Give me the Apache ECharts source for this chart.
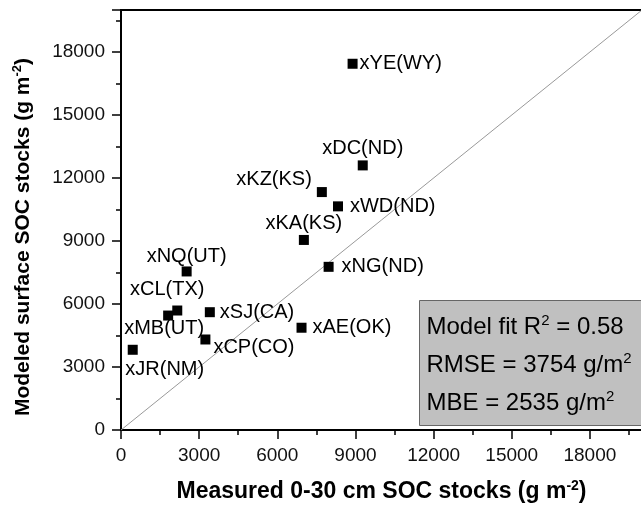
<!DOCTYPE html>
<html>
<head>
<meta charset="utf-8">
<script src="https://cdn.jsdelivr.net/npm/echarts@6/dist/echarts.min.js"></script>
<style>
  html, body { margin: 0; padding: 0; background: #fff; }
  #main { width: 641px; height: 509px; }
</style>
</head>
<body>
<div id="main"></div>
<script>
var sites = ['xYE(WY)', 'xDC(ND)', 'xKZ(KS)', 'xWD(ND)', 'xKA(KS)', 'xNG(ND)', 'xNQ(UT)',
             'xCL(TX)', 'xMB(UT)', 'xSJ(CA)', 'xCP(CO)', 'xAE(OK)', 'xJR(NM)'];
var measured = [8890, 9280, 7710, 8330, 7020, 7970, 2520, 2160, 1810, 3410, 3240, 6930, 450];
var modeled = [17440, 12600, 11330, 10650, 9050, 7770, 7550, 5690, 5450, 5610, 4310, 4870, 3820];
var oneToOne = [[0, 0], [20000, 20000]];
var fitText = ['Model fit R{sup|2} = 0.58', 'RMSE = 3754 g/m{sup|2}', 'MBE = 2535 g/m{sup|2}'];

var FONT = '"Liberation Sans", Arial, sans-serif';

// where each site name sits around its marker
var labelPos = {
    'xYE(WY)': { position: 'right', distance: 2 },
    'xDC(ND)': { position: 'top', distance: 2 },
    'xKZ(KS)': { position: 'left', distance: 5, offset: [0, -13] },
    'xWD(ND)': { position: 'right', distance: 7 },
    'xKA(KS)': { position: 'top', distance: 1 },
    'xNG(ND)': { position: 'right', distance: 8 },
    'xNQ(UT)': { position: 'top', distance: 0 },
    'xCL(TX)': { position: 'top', distance: 3, offset: [-10, -3] },
    'xMB(UT)': { position: 'bottom', distance: 0, offset: [-4, -2] },
    'xSJ(CA)': { position: 'right', distance: 5 },
    'xCP(CO)': { position: 'right', distance: 3, offset: [0, 8] },
    'xAE(OK)': { position: 'right', distance: 6 },
    'xJR(NM)': { position: 'bottom', distance: 3, offset: [32, 2] }
};

var points = sites.map(function (s, i) {
    var lp = labelPos[s];
    return {
        name: s,
        value: [measured[i], modeled[i]],
        label: {
            show: true,
            formatter: s,
            position: lp.position,
            distance: lp.distance,
            offset: lp.offset || [0, 0]
        }
    };
});

var supStyle = { fontSize: 15, fontFamily: FONT, color: '#000', padding: [0, 0, 13, 0] };

function majorAxis(name, gap, size, extra) {
    var ax = {
        type: 'value', min: 0, max: 20000, interval: 3000,
        name: name, nameLocation: 'middle', nameGap: gap,
        nameTextStyle: {
            fontFamily: FONT, fontSize: size, fontWeight: 'bold', color: '#000',
            rich: { sup: { fontSize: Math.round(size * 0.62), fontWeight: 'bold', fontFamily: FONT, color: '#000', padding: [0, 0, 12, 0] } }
        },
        axisLine: { show: true, lineStyle: { color: '#000', width: 2 } },
        axisTick: { show: true, inside: false, length: 9, lineStyle: { color: '#000', width: 1.5 } },
        axisLabel: {
            fontFamily: FONT, fontSize: 19, color: '#111', margin: 16,
            formatter: function (v) { return v === 20000 ? '' : v; }
        },
        splitLine: { show: false }
    };
    return Object.assign(ax, extra || {});
}

function minorAxis(pos) {
    return {
        type: 'value', min: 0, max: 20000, interval: 1500, position: pos,
        axisLine: { show: false },
        axisTick: { show: true, inside: false, length: 5, lineStyle: { color: '#000', width: 1.5 } },
        axisLabel: { show: false },
        splitLine: { show: false }
    };
}

var option = {
    animation: false,
    backgroundColor: '#fff',
    grid: {
        left: 121, top: 10, width: 521, height: 420,
        outerBoundsMode: 'none',
        containLabel: false,
        show: true, borderColor: '#000', borderWidth: 2, backgroundColor: 'transparent'
    },
    xAxis: [
        majorAxis('Measured 0-30 cm SOC stocks (g m{sup|-2})', 49, 23, { position: 'bottom' }),
        minorAxis('bottom')
    ],
    yAxis: [
        majorAxis('Modeled surface SOC stocks (g m{sup|-2})', 85, 21, { position: 'left' }),
        minorAxis('left')
    ],
    series: [
        {
            type: 'line',
            data: oneToOne,
            symbol: 'none',
            silent: true,
            lineStyle: { color: '#999', width: 1 },
            z: 1
        },
        {
            type: 'scatter',
            data: points,
            symbol: 'rect',
            symbolSize: 10,
            itemStyle: { color: '#000', opacity: 1 },
            label: { fontFamily: FONT, fontSize: 20, color: '#000' },
            z: 3
        }
    ],
    graphic: [{
        type: 'group',
        left: 419, top: 300,
        children: [
            {
                type: 'rect',
                shape: { x: 0, y: 0, width: 222, height: 125 },
                style: { fill: '#c0c0c0', stroke: '#666', lineWidth: 1 }
            }
        ].concat(fitText.map(function (t, i) {
            return {
                type: 'text',
                x: 7, y: 27 + i * 38,
                style: {
                    text: t, fontFamily: FONT, fontSize: 24, fill: '#000',
                    verticalAlign: 'middle', align: 'left',
                    rich: { sup: supStyle }
                }
            };
        }))
    }]
};
// shift the rotated y title towards the bottom of the axis
option.yAxis[0].nameTextStyle.padding = [0, 34, 0, 0];

var chart = echarts.init(document.getElementById('main'), null, { renderer: 'canvas' });
chart.setOption(option);
</script>
</body>
</html>
